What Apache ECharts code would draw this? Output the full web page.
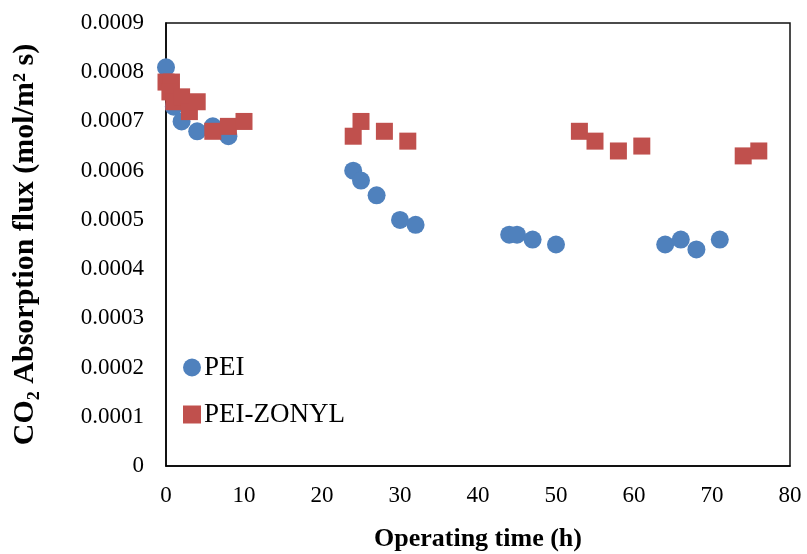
<!DOCTYPE html>
<html>
<head>
<meta charset="utf-8">
<script src="https://cdn.jsdelivr.net/npm/echarts@6/dist/echarts.min.js"></script>
<style>html,body{margin:0;padding:0;background:#fff;}#c{width:807px;height:554px;}</style>
</head>
<body>
<div id="c"></div>
<script>
// PEI series: [time (h), flux]
var peiTime = [0, 1, 2, 4, 6, 8, 24, 25, 27, 30, 32, 44, 45, 47, 50, 64, 66, 68, 71];
var peiFlux = [0.00081, 0.00073, 0.00070, 0.00068, 0.00069, 0.00067, 0.00060, 0.00058, 0.00055, 0.00050, 0.00049, 0.00047, 0.00047, 0.00046, 0.00045, 0.00045, 0.00046, 0.00044, 0.00046];
// PEI-ZONYL series
var zonylTime = [0, 0.7, 0.5, 1, 2, 3, 4, 6, 8, 10, 24, 25, 28, 31, 53, 55, 58, 61, 74, 76];
var zonylFlux = [0.00078, 0.00078, 0.00076, 0.00074, 0.00075, 0.00072, 0.00074, 0.00068, 0.00069, 0.00070, 0.00067, 0.00070, 0.00068, 0.00066, 0.00068, 0.00066, 0.00064, 0.00065, 0.00063, 0.00064];
var seriesNames = ['PEI', 'PEI-ZONYL'];
var xTitle = 'Operating time (h)';
var yTitle = 'CO\u2082 Absorption flux (mol/m\u00B2 s)';

function pairs(a, b) { return a.map(function (v, i) { return [v, b[i]]; }); }

var font = '"Liberation Serif", "Times New Roman", serif';
var chart = echarts.init(document.getElementById('c'));
chart.setOption({
  animation: false,
  backgroundColor: '#fff',
  grid: { left: 166, right: 17, top: 23, bottom: 88, outerBoundsMode: 'none', containLabel: false,
    show: true, borderColor: '#111', borderWidth: 1.5, backgroundColor: 'transparent' },
  legend: {
    orient: 'vertical', left: 183, top: 354, padding: 0, itemWidth: 18, itemHeight: 18, itemGap: 20,
    textStyle: { fontFamily: font, fontSize: 27, lineHeight: 26, color: '#000', padding: [0, 0, 0, -2] },
    data: [{ name: seriesNames[0], icon: 'circle' }, { name: seriesNames[1], icon: 'rect' }]
  },
  xAxis: {
    type: 'value', min: 0, max: 80, interval: 10,
    name: xTitle, nameLocation: 'middle', nameGap: 60,
    nameTextStyle: { fontFamily: font, fontSize: 26, fontWeight: 'bold', color: '#000' },
    axisLine: { show: true, lineStyle: { color: '#000', width: 1.5 } },
    axisTick: { show: false }, splitLine: { show: false },
    axisLabel: { fontFamily: font, fontSize: 23, color: '#000', margin: 18 }
  },
  yAxis: {
    type: 'value', min: 0, max: 0.0009, interval: 0.0001,
    name: yTitle, nameLocation: 'middle', nameGap: 126, nameRotate: 90,
    nameTextStyle: { fontFamily: font, fontSize: 30, fontWeight: 'bold', color: '#000' },
    axisLine: { show: true, lineStyle: { color: '#000', width: 1.5 } },
    axisTick: { show: false }, splitLine: { show: false },
    axisLabel: { fontFamily: font, fontSize: 23, color: '#000', margin: 22,
      formatter: function (v) { return v === 0 ? '0' : v.toFixed(4); } }
  },
  series: [
    { name: seriesNames[0], type: 'scatter', symbol: 'circle', symbolSize: 18,
      itemStyle: { color: '#4F81BD', opacity: 1 }, data: pairs(peiTime, peiFlux) },
    { name: seriesNames[1], type: 'scatter', symbol: 'rect', symbolSize: 17,
      itemStyle: { color: '#C0504D', opacity: 1 }, data: pairs(zonylTime, zonylFlux) }
  ]
});
</script>
</body>
</html>
